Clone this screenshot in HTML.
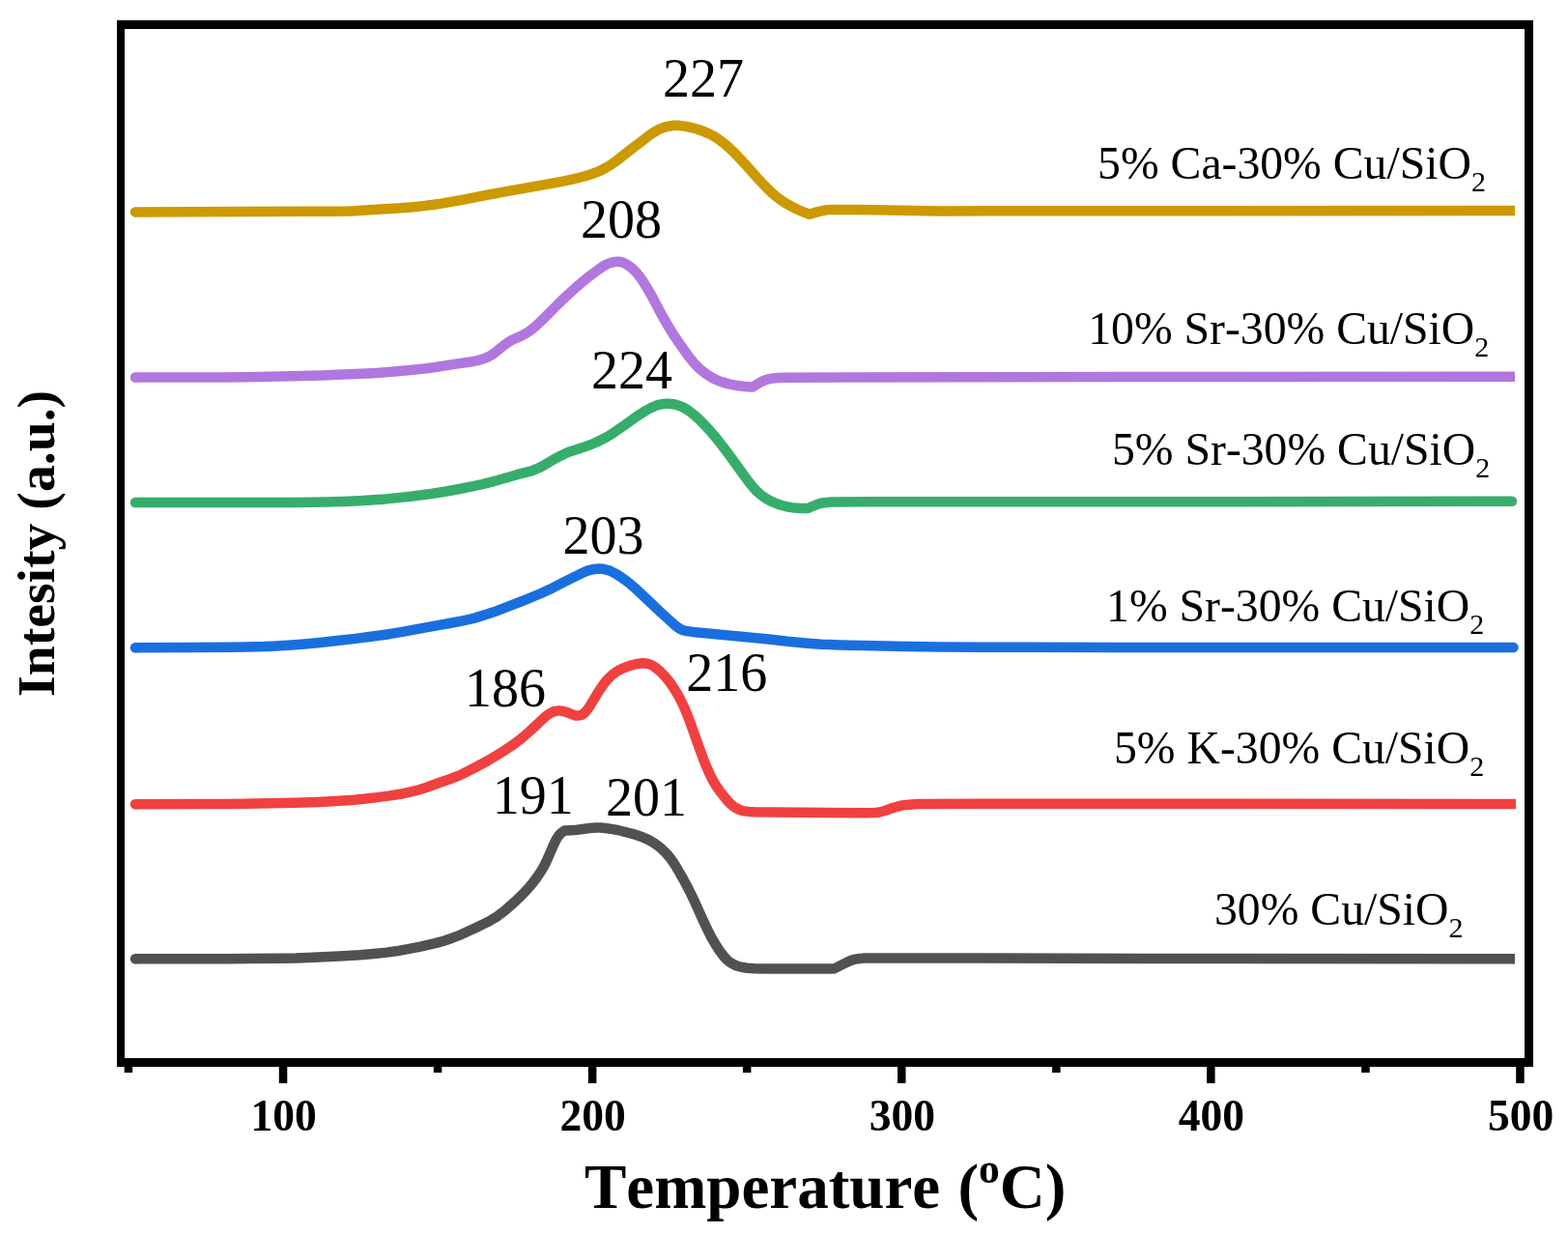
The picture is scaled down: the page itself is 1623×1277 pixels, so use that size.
<!DOCTYPE html>
<html lang="en"><head><meta charset="utf-8"><title>H2-TPR profiles</title>
<style>
html,body{margin:0;padding:0;background:#fff;}
body{width:1623px;height:1277px;overflow:hidden;}
svg{display:block;}
text{font-family:"Liberation Serif",serif;fill:#000;font-kerning:none;}
.b{font-weight:bold;}
.tick{font-size:45.5px;font-weight:bold;text-anchor:middle;}
.pk{font-size:56px;}
.lg{font-size:47.7px;}
.sub{font-size:30px;}
</style></head>
<body>
<svg width="1623" height="1277" viewBox="0 0 1623 1277">
<rect x="0" y="0" width="1623" height="1277" fill="#fff"/>
<g fill="none" stroke-width="10.5" stroke-linejoin="round" stroke-linecap="butt">
<path stroke="#515151" d="M140.0,992.2L235.1,992.2L292.1,991.7L306.1,991.5L319.1,991.0L335.1,990.3L356.1,989.2L372.2,988.2L387.2,986.9L400.2,985.6L410.2,984.3L422.2,982.2L435.2,979.6L449.2,976.4L454.2,975.1L459.2,973.7L468.2,970.7L472.2,969.2L475.2,968.0L493.2,959.8L502.2,955.4L507.2,952.8L512.3,949.8L515.3,947.8L518.3,945.6L524.3,940.8L532.3,933.7L539.3,927.1L545.3,920.8L548.3,917.4L551.3,913.8L554.3,909.9L556.3,907.1L560.3,901.1L562.3,897.7L564.3,893.9L567.3,887.5L573.3,873.7L575.3,869.6L576.3,867.8L578.3,864.8L580.3,862.5L582.3,860.9L584.3,859.6L591.3,859.2L597.3,858.8L601.3,858.3L610.3,857.0L613.3,856.7L617.3,856.5L621.3,856.5L624.3,856.7L628.3,857.2L634.3,858.1L639.3,859.0L643.3,860.0L657.4,863.7L660.4,864.6L663.4,865.7L668.4,867.8L673.4,870.3L677.4,872.7L681.4,875.6L684.4,878.0L687.4,880.9L690.4,884.0L692.4,886.3L694.4,888.8L696.4,891.6L698.4,894.6L701.4,899.6L707.4,910.1L712.4,919.5L715.4,925.5L718.4,931.8L728.4,953.8L732.4,962.2L735.4,968.2L737.4,971.9L740.4,977.0L742.4,980.3L745.4,984.7L747.4,987.4L749.4,989.9L751.4,992.1L753.4,994.0L755.4,995.6L757.4,996.9L759.4,998.0L761.4,999.0L763.4,999.7L765.4,1000.3L768.4,1001.0L773.4,1001.7L780.4,1002.3L788.4,1002.4L863.5,1002.4L877.5,995.4L880.5,994.1L882.5,993.3L885.5,992.6L889.5,992.0L893.5,991.6L898.5,991.4L971.6,991.5L1189.7,992.0L1568.0,992.2"/>
<path stroke="#F14040" d="M140.0,832.2L214.0,832.1L238.0,832.0L304.0,830.7L322.0,830.2L339.0,829.4L355.0,828.5L367.0,827.7L379.0,826.5L391.0,825.1L404.0,823.4L414.0,821.8L424.0,819.7L433.0,817.5L437.0,816.3L441.0,815.0L454.0,810.2L467.0,805.7L474.0,803.0L479.0,800.8L485.0,797.8L498.0,791.0L506.0,786.6L516.0,780.6L523.0,776.1L530.0,771.4L536.0,767.1L541.0,763.1L547.0,757.9L552.0,753.4L560.0,745.7L564.0,742.1L566.0,740.5L568.0,739.0L571.0,737.3L573.0,736.4L575.0,735.9L577.0,735.6L580.0,735.6L583.0,736.0L585.0,736.5L587.0,737.2L593.0,739.6L595.0,740.3L596.0,740.5L598.0,740.6L600.0,740.4L602.0,739.7L603.0,739.2L605.0,737.7L606.0,736.7L607.0,735.6L609.0,733.0L611.0,729.9L619.0,716.6L622.0,712.0L625.0,707.8L627.0,705.2L629.0,702.9L631.0,700.8L634.0,698.1L637.0,695.8L640.0,693.9L644.0,691.9L648.0,690.3L654.0,688.3L658.0,687.2L662.0,686.6L666.0,686.3L668.0,686.4L670.0,686.7L671.0,686.9L673.0,687.6L676.0,689.2L678.0,690.5L680.0,692.0L684.0,695.5L688.0,699.7L692.0,704.4L696.0,709.9L700.0,716.2L703.0,721.5L706.0,727.3L709.0,733.9L711.0,738.7L713.0,743.8L724.0,774.6L729.0,787.9L732.0,795.2L734.0,799.7L737.0,805.9L739.0,809.5L742.0,814.4L746.0,820.0L751.0,826.3L754.0,829.7L756.0,831.7L759.0,834.3L761.0,835.7L763.0,836.8L765.0,837.8L767.0,838.5L769.0,839.1L771.0,839.4L775.0,839.9L781.0,840.3L801.0,840.6L856.0,841.1L896.0,841.2L904.0,841.1L908.0,840.8L910.0,840.5L913.0,839.8L916.0,839.0L923.0,836.4L927.0,835.2L931.0,834.1L934.0,833.4L938.0,832.9L944.0,832.4L950.0,832.0L956.0,831.9L1180.0,831.8L1569.0,831.9"/>
<path stroke="#1A6FDF" d="M140.0,670.2L196.0,670.1L238.0,669.8L266.0,669.3L274.0,669.1L282.0,668.7L302.1,667.4L315.1,666.4L331.1,664.9L351.1,662.8L368.1,660.9L384.1,658.8L399.1,656.7L412.1,654.6L423.1,652.7L449.1,647.9L468.1,644.5L479.1,642.3L486.1,640.8L491.1,639.6L495.1,638.4L505.1,635.3L513.1,632.6L533.1,624.9L544.1,620.6L560.1,614.0L569.2,609.8L581.2,603.6L597.2,595.6L603.2,592.7L606.2,591.4L609.2,590.3L613.2,589.3L617.2,588.7L620.2,588.6L623.2,588.8L626.2,589.3L629.2,590.1L632.2,591.1L635.2,592.6L638.2,594.3L642.2,596.8L646.2,599.6L652.2,604.2L658.2,609.4L683.2,633.0L689.2,638.5L697.2,645.7L700.2,648.2L702.2,649.7L704.2,651.0L706.2,651.9L708.2,652.5L710.2,653.0L713.2,653.4L717.2,653.9L790.2,661.0L798.2,661.8L815.2,663.8L833.2,665.5L842.2,666.2L850.2,666.8L858.3,667.1L868.3,667.5L939.3,669.0L973.3,669.5L1063.3,669.8L1155.4,670.0L1566.5,670.0"/>
<path stroke="#37AD6B" d="M140.0,520.1L305.1,520.0L337.1,519.6L356.1,519.0L372.1,518.2L387.1,517.3L399.1,516.4L412.1,515.1L429.1,513.2L446.1,511.0L459.1,509.0L473.1,506.5L492.2,502.7L499.2,501.2L505.2,499.7L514.2,497.3L535.2,491.2L548.2,487.9L551.2,486.9L554.2,485.8L558.2,484.0L561.2,482.5L575.2,474.3L580.2,471.7L585.2,469.3L588.2,468.0L591.2,466.9L603.2,463.1L610.2,460.6L614.2,459.0L618.2,457.2L626.2,453.3L630.2,451.0L635.2,447.8L647.2,439.5L658.2,431.6L663.2,428.2L669.2,424.5L674.2,421.8L678.2,420.1L682.2,418.8L685.2,418.2L687.2,417.9L689.2,417.7L691.2,417.7L695.2,418.0L698.2,418.5L700.2,418.9L703.2,419.9L705.2,420.7L707.2,421.6L711.2,423.9L715.2,426.7L719.2,430.0L724.3,434.6L729.3,439.7L734.3,445.1L739.3,450.9L743.3,455.8L748.3,462.2L754.3,470.2L760.3,478.3L772.3,495.0L775.3,499.0L778.3,502.8L781.3,506.2L784.3,509.2L787.3,511.9L789.3,513.4L793.3,516.1L795.3,517.3L798.3,518.8L801.3,520.1L804.3,521.3L807.3,522.4L810.3,523.2L813.3,524.0L816.3,524.6L819.3,525.1L822.3,525.5L828.3,525.9L836.3,526.0L841.3,523.8L845.3,522.2L848.3,521.2L850.3,520.7L853.3,520.2L856.3,519.9L860.3,519.6L865.3,519.6L902.3,519.3L946.3,519.2L1290.1,519.2L1565.0,518.8"/>
<path stroke="#B177DE" d="M140.0,390.5L230.0,390.4L253.1,390.3L267.1,390.1L290.1,389.6L333.1,388.4L355.1,387.6L374.1,386.8L390.1,385.9L405.1,384.8L422.1,383.3L439.1,381.5L449.1,380.2L470.2,376.9L485.2,374.8L490.2,373.9L494.2,373.1L498.2,372.0L502.2,370.6L505.2,369.3L508.2,367.7L510.2,366.5L512.2,365.1L520.2,358.4L523.2,356.1L526.2,354.1L529.2,352.3L531.2,351.3L538.2,348.2L541.2,346.7L545.2,344.5L548.2,342.5L551.2,340.3L553.2,338.6L558.2,334.1L564.2,328.2L578.2,314.1L585.2,307.4L598.2,295.7L602.2,292.3L607.2,288.2L614.2,282.8L619.2,279.1L624.2,275.6L627.2,273.9L630.2,272.5L633.2,271.6L636.2,271.0L639.2,270.7L641.2,270.8L642.2,271.0L643.2,271.2L645.2,271.9L648.2,273.4L651.2,275.3L654.2,277.6L656.2,279.5L659.2,282.7L662.2,286.4L664.2,289.2L666.2,292.2L670.2,298.7L674.3,305.8L683.3,322.7L687.3,330.0L692.3,338.6L696.3,345.1L703.3,355.5L709.3,364.0L713.3,369.5L716.3,373.3L718.3,375.6L720.3,377.8L723.3,380.8L725.3,382.6L728.3,385.0L731.3,387.2L734.3,389.2L737.3,391.0L740.3,392.5L743.3,393.8L746.3,395.0L749.3,395.9L753.3,397.1L757.3,398.0L761.3,398.7L765.3,399.3L769.3,399.8L774.3,400.2L779.3,400.5L783.3,397.8L787.3,395.5L790.3,394.0L793.3,392.9L796.3,392.1L800.3,391.4L805.3,391.0L811.3,390.8L874.3,390.5L1160.2,390.1L1568.0,389.7"/>
<path stroke="#CC9900" d="M140.0,219.4L317.9,218.8L344.9,218.7L361.9,218.5L366.9,218.3L393.9,216.6L411.9,215.4L421.9,214.7L430.9,213.9L439.9,212.9L448.9,211.8L456.9,210.6L476.9,207.1L519.9,198.8L567.9,190.3L583.9,187.3L591.9,185.7L598.9,184.0L605.9,182.2L611.9,180.3L617.9,178.1L622.9,175.9L627.9,173.1L632.9,170.0L635.9,168.0L639.9,165.0L653.9,154.0L670.8,141.1L674.8,138.2L678.8,135.7L680.8,134.6L683.8,133.2L686.8,132.0L688.8,131.4L691.8,130.7L694.8,130.2L697.8,129.8L699.8,129.8L701.8,129.8L704.8,130.1L710.8,131.0L716.8,132.3L722.8,134.0L727.8,135.8L732.8,137.9L737.8,140.4L740.8,142.1L742.8,143.4L746.8,146.3L750.8,149.5L755.8,153.9L759.8,157.8L766.8,165.1L773.8,172.8L783.8,184.0L788.8,189.4L796.8,197.5L799.8,200.3L802.8,202.9L806.8,205.9L810.8,208.7L814.8,211.2L818.8,213.4L823.8,216.0L828.8,218.2L832.8,219.9L837.8,221.7L844.8,219.6L848.8,218.6L852.8,217.8L855.8,217.3L857.8,217.1L862.8,217.0L890.8,217.1L946.8,218.1L974.8,218.4L1568.0,218.0"/>
</g>
<g>
<circle cx="140.0" cy="992.2" r="5.25" fill="#515151"/>
<circle cx="140.0" cy="832.2" r="5.25" fill="#F14040"/>
<circle cx="140.0" cy="670.2" r="5.25" fill="#1A6FDF"/>
<circle cx="1566.5" cy="670.0" r="5.25" fill="#1A6FDF"/>
<circle cx="140.0" cy="520.1" r="5.25" fill="#37AD6B"/>
<circle cx="1565.0" cy="518.8" r="5.25" fill="#37AD6B"/>
<circle cx="140.0" cy="390.5" r="5.25" fill="#B177DE"/>
<circle cx="140.0" cy="219.4" r="5.25" fill="#CC9900"/>
</g>
<path fill="#000" fill-rule="evenodd" d="M121,21 H1587 V1104 H121 Z M129,30 H1578 V1095 H129 Z"/>
<g fill="#000">
<rect x="128.7" y="1104" width="8.5" height="6"/>
<rect x="288.8" y="1104" width="8.5" height="17"/>
<rect x="448.8" y="1104" width="8.5" height="6"/>
<rect x="608.9" y="1104" width="8.5" height="17"/>
<rect x="768.9" y="1104" width="8.5" height="6"/>
<rect x="929.0" y="1104" width="8.5" height="17"/>
<rect x="1089.1" y="1104" width="8.5" height="6"/>
<rect x="1249.1" y="1104" width="8.5" height="17"/>
<rect x="1409.2" y="1104" width="8.5" height="6"/>
<rect x="1569.2" y="1104" width="8.5" height="17"/>
</g>
<text class="tick" x="293.5" y="1170">100</text>
<text class="tick" x="613.6" y="1170">200</text>
<text class="tick" x="933.8" y="1170">300</text>
<text class="tick" x="1253.9" y="1170">400</text>
<text class="tick" x="1574.0" y="1170">500</text>
<text class="b" font-size="65" x="605" y="1250">Temperature <tspan dx="2">(</tspan><tspan font-size="43.5" dy="-26.5">o</tspan><tspan dy="26.5">C)</tspan></text>
<text class="b" font-size="55.7" transform="translate(56,721) rotate(-90)">Intesity (a.u.)</text>
<text class="pk" x="685.9" y="99.7">227</text>
<text class="pk" x="601.1" y="245.7">208</text>
<text class="pk" x="612.0" y="401.5">224</text>
<text class="pk" x="582.6" y="572.5">203</text>
<text class="pk" x="481.1" y="730.6">186</text>
<text class="pk" x="710.3" y="715.0">216</text>
<text class="pk" x="509.8" y="841.7">191</text>
<text class="pk" x="627.0" y="843.5">201</text>
<text class="lg" x="1136.1" y="184.6">5% Ca-30% Cu/SiO<tspan class="sub" dy="13">2</tspan></text>
<text class="lg" x="1126.2" y="355.9">10% Sr-30% Cu/SiO<tspan class="sub" dy="13">2</tspan></text>
<text class="lg" x="1151.0" y="480.7">5% Sr-30% Cu/SiO<tspan class="sub" dy="13">2</tspan></text>
<text class="lg" x="1145.1" y="642.9">1% Sr-30% Cu/SiO<tspan class="sub" dy="13">2</tspan></text>
<text class="lg" x="1153.0" y="790.1">5% K-30% Cu/SiO<tspan class="sub" dy="13">2</tspan></text>
<text class="lg" x="1257.0" y="957.4">30% Cu/SiO<tspan class="sub" dy="13">2</tspan></text>
</svg>
</body></html>
